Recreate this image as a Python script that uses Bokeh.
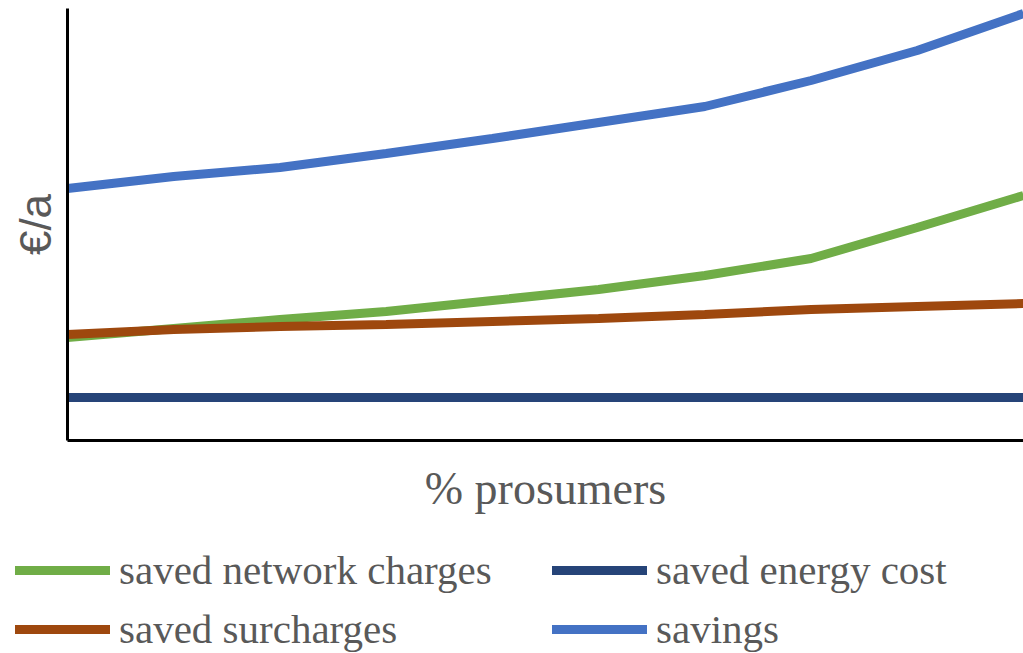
from bokeh.plotting import figure
from bokeh.models import Range1d, Legend, LegendItem, FixedTicker
from bokeh.embed import file_html
from bokeh.resources import INLINE

# % prosumers
prosumers = [0, 10, 20, 30, 40, 50, 60, 70, 80, 90]
# €/a (relative units)
saved_network_charges = [103, 112, 121, 129, 140, 151, 165, 182, 213, 245]
saved_energy_cost = [43, 43, 43, 43, 43, 43, 43, 43, 43, 43]
saved_surcharges = [106, 111, 114, 116, 119, 122, 126, 131, 134, 137]
savings = [252, 264, 273, 287, 302, 318, 334, 360, 390, 427]

names = ["saved network charges", "saved energy cost", "saved surcharges", "savings"]
colors = ["#70AD47", "#264478", "#9E480E", "#4472C4"]
series = [saved_network_charges, saved_energy_cost, saved_surcharges, savings]

p = figure(width=1023, height=548, output_backend="svg", toolbar_location=None,
           x_range=Range1d(0, 90), y_range=Range1d(0, 432),
           min_border_left=67, min_border_right=0, min_border_top=8,
           min_border_bottom=108)
p.outline_line_color = None
p.grid.visible = False

for ys, c in zip(series, colors):
    p.line(prosumers, ys, line_color=c, line_width=9)

for ax in (p.xaxis[0], p.yaxis[0]):
    ax.ticker = FixedTicker(ticks=[])
    ax.axis_line_color = "black"
    ax.axis_line_width = 3
    ax.major_tick_line_color = None
    ax.minor_tick_line_color = None
    ax.major_tick_out = 0
    ax.major_tick_in = 0
    ax.minor_tick_out = 0
    ax.major_label_text_font_size = "0px"
    ax.major_label_standoff = 0
    ax.axis_label_text_font_style = "normal"

p.xaxis.axis_label = "% prosumers"
p.xaxis.axis_label_text_font = "Liberation Serif"
p.xaxis.axis_label_text_font_size = "46px"
p.xaxis.axis_label_text_color = "#595959"
p.xaxis.axis_label_standoff = 22

p.yaxis.axis_label = "€/a"
p.yaxis.axis_label_text_font = "Liberation Sans"
p.yaxis.axis_label_text_font_size = "44px"
p.yaxis.axis_label_text_color = "#595959"
p.yaxis.axis_label_standoff = 8

# legend strip below the chart (separate root, so its frame is not aligned to the chart's)
lf = figure(width=1023, height=105, output_backend="svg", toolbar_location=None,
            x_axis_type=None, y_axis_type=None,
            x_range=Range1d(0, 1), y_range=Range1d(0, 1),
            min_border_left=0, min_border_right=0, min_border_top=0, min_border_bottom=0)
lf.outline_line_color = None
lf.grid.visible = False
nan = float("nan")
key_renderers = {n: lf.line(x=[nan], y=[nan], line_color=c, line_width=9, line_cap="round")
                 for n, c in zip(names, colors)}
# column-major fill: column 1 = network charges, surcharges; column 2 = energy cost, savings
order = ["saved network charges", "saved surcharges", "saved energy cost", "savings"]
items = [LegendItem(label=n, renderers=[key_renderers[n]]) for n in order]
legend = Legend(items=items, ncols=2, location=(15, 0),
                label_text_font="Liberation Serif", label_text_font_size="41px",
                label_text_color="#595959", glyph_width=95, glyph_height=20,
                label_standoff=9, spacing=11, padding=0, margin=0,
                label_width=422, background_fill_alpha=0, border_line_color=None)
lf.add_layout(legend, "center")

open("out.html", "w").write(file_html([p, lf], INLINE))
